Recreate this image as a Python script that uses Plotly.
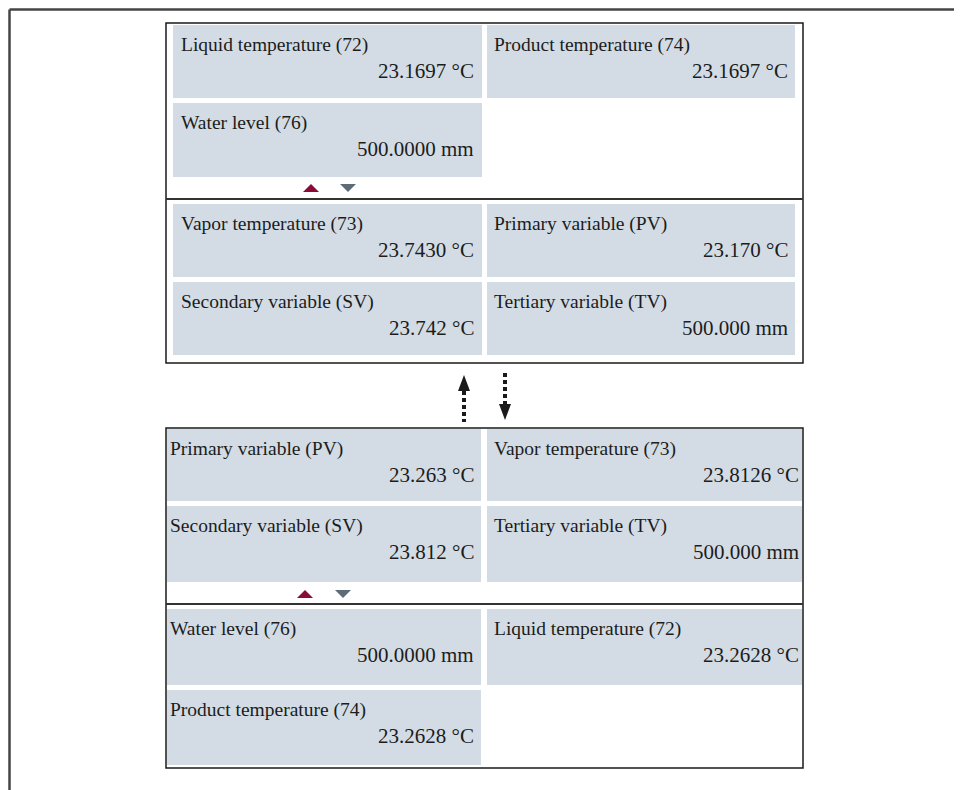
import plotly.graph_objects as go

# ---- values shown on the two display screens ----
top_upper_labels = ["Liquid temperature (72)", "Product temperature (74)", "Water level (76)"]
top_upper_values = ["23.1697 °C", "23.1697 °C", "500.0000 mm"]
top_lower_labels = ["Vapor temperature (73)", "Primary variable (PV)",
                    "Secondary variable (SV)", "Tertiary variable (TV)"]
top_lower_values = ["23.7430 °C", "23.170 °C", "23.742 °C", "500.000 mm"]

bottom_upper_labels = ["Primary variable (PV)", "Vapor temperature (73)",
                       "Secondary variable (SV)", "Tertiary variable (TV)"]
bottom_upper_values = ["23.263 °C", "23.8126 °C", "23.812 °C", "500.000 mm"]
bottom_lower_labels = ["Water level (76)", "Liquid temperature (72)", "Product temperature (74)"]
bottom_lower_values = ["500.0000 mm", "23.2628 °C", "23.2628 °C"]

W, H = 962, 790
OFF = 8  # page body margin
CELL = "#d3dce5"
TXT = "#1c1c1c"
RED = "#8a0c34"
GREY = "#5e6c78"
FONT = "Liberation Serif"

# screen geometry (pixel space)
panels = [
    dict(box=(166, 23, 803, 363), divider=199,
         cols=[(173, 482), (487, 795)],
         upper_rows=[(25, 98), (103, 177)], lower_rows=[(204, 277), (282, 355)],
         pads=[(6, 6), (5, 5)], tri=(311, 348, 188),
         upper=(top_upper_labels, top_upper_values),
         lower=(top_lower_labels, top_lower_values)),
    dict(box=(166, 428, 803, 768), divider=604,
         cols=[(167, 481), (487, 802)],
         upper_rows=[(429, 501), (506, 582)], lower_rows=[(609, 685), (690, 765)],
         pads=[(1, 5), (5, 1)], tri=(305, 343, 594),
         upper=(bottom_upper_labels, bottom_upper_values),
         lower=(bottom_lower_labels, bottom_lower_values)),
]

fig = go.Figure()
shapes = []
annotations = []


def add_cells(p, rows, labels, values):
    for i, (lab, val) in enumerate(zip(labels, values)):
        r, c = divmod(i, 2)
        x0, x1 = p["cols"][c]
        y0, y1 = rows[r]
        pl, pr = p["pads"][c]
        shapes.append(dict(type="rect", x0=x0, x1=x1, y0=y0, y1=y1,
                           fillcolor=CELL, line=dict(width=0), layer="below"))
        annotations.append(dict(x=x0 + pl, y=y0 + 20, text=lab, xanchor="left",
                                yanchor="middle", showarrow=False,
                                font=dict(size=19.5, color=TXT, family=FONT)))
        annotations.append(dict(x=x1 - pr, y=y0 + 46, text=val, xanchor="right",
                                yanchor="middle", showarrow=False,
                                font=dict(size=21, color=TXT, family=FONT)))


for p in panels:
    bx0, by0, bx1, by1 = p["box"]
    add_cells(p, p["upper_rows"], *p["upper"])
    add_cells(p, p["lower_rows"], *p["lower"])
    shapes.append(dict(type="rect", x0=bx0, x1=bx1, y0=by0, y1=by1,
                       line=dict(color="#1a1a1a", width=1.5)))
    shapes.append(dict(type="line", x0=bx0, x1=bx1, y0=p["divider"], y1=p["divider"],
                       line=dict(color="#333333", width=2)))
    tx_up, tx_dn, ty = p["tri"]
    shapes.append(dict(type="path", fillcolor=RED, line=dict(width=0),
                       path=f"M{tx_up-8},{ty+4} L{tx_up+8},{ty+4} L{tx_up},{ty-4} Z"))
    shapes.append(dict(type="path", fillcolor=GREY, line=dict(width=0),
                       path=f"M{tx_dn-8},{ty-4} L{tx_dn+8},{ty-4} L{tx_dn},{ty+4} Z"))

# navigation arrows between the screens
shapes.append(dict(type="line", x0=464, x1=464, y0=391, y1=422,
                   line=dict(color="#1a1a1a", width=4, dash="4px,3px")))
shapes.append(dict(type="path", fillcolor="#1a1a1a", line=dict(width=0),
                   path="M458,391 L470,391 L464,375 Z"))
shapes.append(dict(type="line", x0=505, x1=505, y0=373, y1=404,
                   line=dict(color="#1a1a1a", width=4, dash="4px,3px")))
shapes.append(dict(type="path", fillcolor="#1a1a1a", line=dict(width=0),
                   path="M499,404 L511,404 L505,420 Z"))

# outer page frame (as close to the page edge as the figure allows)
fr = OFF + 1.5
shapes.append(dict(type="line", x0=fr, x1=W, y0=fr, y1=fr, line=dict(color="#444444", width=2.5)))
shapes.append(dict(type="line", x0=fr, x1=fr, y0=fr, y1=H, line=dict(color="#444444", width=2.5)))

fig.add_trace(go.Scatter(x=[OFF, W], y=[OFF, H], mode="markers",
                         marker=dict(opacity=0), hoverinfo="skip", showlegend=False))

fig.update_layout(
    width=W - OFF, height=H - OFF,
    margin=dict(l=0, r=0, t=0, b=0),
    paper_bgcolor="white", plot_bgcolor="white",
    xaxis=dict(range=[OFF, W], visible=False, fixedrange=True),
    yaxis=dict(range=[H, OFF], visible=False, fixedrange=True),
    shapes=shapes, annotations=annotations,
    showlegend=False,
)

fig.write_html("out.html")
